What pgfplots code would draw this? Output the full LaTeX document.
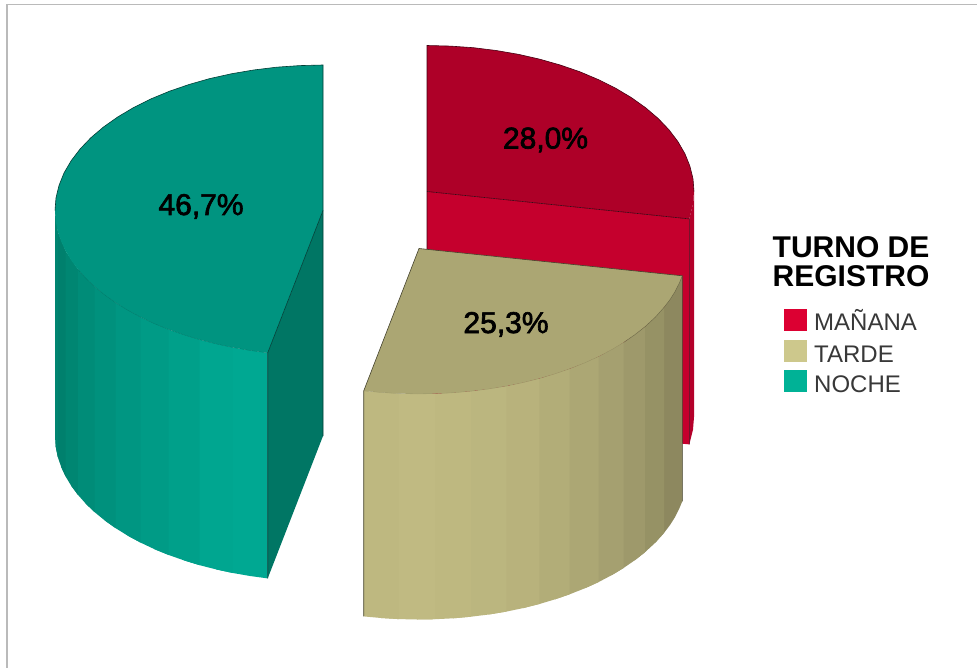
\documentclass[border=0pt]{standalone}
\usepackage{pgfplots}
\pgfplotsset{compat=1.18}
\usepackage{fontspec}
\setmainfont{Liberation Sans}
\newfontfamily\medfont[FakeBold=2.2]{Liberation Sans}
\definecolor{frameg}{RGB}{186,186,186}
\definecolor{tealtop}{RGB}{0,148,128}
\definecolor{tealin}{RGB}{0,118,100}
\definecolor{tealline}{RGB}{0,62,54}
\definecolor{redtop}{RGB}{174,0,40}
\definecolor{redfront}{RGB}{197,0,45}
\definecolor{redside}{RGB}{180,0,42}
\definecolor{redline}{RGB}{70,0,18}
\definecolor{tantop}{RGB}{171,166,115}
\definecolor{tanline}{RGB}{70,68,46}
\definecolor{legred}{RGB}{220,0,50}
\definecolor{legtan}{RGB}{205,200,140}
\definecolor{legteal}{RGB}{0,178,150}
\newcommand{\band}[2]{\addplot[draw=none,fill={rgb,255:#1}] coordinates {#2} --cycle;}
\begin{document}
\begin{tikzpicture}
\begin{axis}[width=977pt,height=668pt,scale only axis,hide axis,
  xmin=0,xmax=977,ymin=0,ymax=668,y dir=reverse,clip=true]
% page
\addplot[draw=none,fill=white] coordinates {(0,0)(977,0)(977,668)(0,668)} --cycle;
% frame
\addplot[frameg,line width=1.6pt] coordinates {(7,668)(7,4.5)(977,4.5)};

% NOCHE: inner face
\addplot[draw=none,fill=tealin] coordinates {(323,210.5)(267.7,352.9)(267.7,578.4)(323,436)} --cycle;
% NOCHE: outer wall, band by band, each one running under the next
\band{red,0;green,168;blue,146}{(267.7,352.9)(232.9,347.5)(216.1,343.9)(216.1,569.4)(232.9,573.0)(250.0,576.0)(267.7,578.4)}
\band{red,0;green,166;blue,144}{(232.9,347.5)(199.7,339.7)(183.8,334.8)(183.8,560.3)(199.7,565.2)(216.1,569.4)(232.9,573.0)}
\band{red,0;green,160;blue,138}{(199.7,339.7)(168.7,329.5)(154.3,323.6)(154.3,549.1)(168.7,555.0)(183.8,560.3)(199.7,565.2)}
\band{red,0;green,155;blue,134}{(168.7,329.5)(140.6,317.1)(127.6,310.1)(127.6,535.6)(140.6,542.6)(154.3,549.1)(168.7,555.0)}
\band{red,0;green,150;blue,130}{(140.6,317.1)(115.7,302.7)(104.8,295.0)(104.8,520.5)(115.7,528.2)(127.6,535.6)(140.6,542.6)}
\band{red,0;green,145;blue,125}{(115.7,302.7)(94.7,286.7)(85.7,278.1)(85.7,503.6)(94.7,512.2)(104.8,520.5)(115.7,528.2)}
\band{red,0;green,140;blue,120}{(94.7,286.7)(77.9,269.3)(71.2,260.3)(71.2,485.8)(77.9,494.8)(85.7,503.6)(94.7,512.2)}
\band{red,0;green,134;blue,114}{(77.9,269.3)(65.5,250.8)(61.1,241.2)(61.1,466.7)(65.5,476.3)(71.2,485.8)(77.9,494.8)}
\band{red,0;green,128;blue,109}{(65.5,250.8)(57.8,231.6)(55.7,221.2)(55.7,446.7)(57.8,457.1)(61.1,466.7)(65.5,476.3)}
\band{red,0;green,132;blue,112}{(57.8,231.6)(55,210.5)(55,436)(55.7,446.7)(57.8,457.1)}
% NOCHE: top face
\addplot[draw=none,fill=tealtop] coordinates {(323,210.5)(267.7,352.9)(250,350.5)(232.9,347.5)(216.1,343.9)(199.7,339.7)(183.8,334.8)(168.7,329.5)(154.3,323.6)(140.6,317.1)(127.6,310.1)(115.7,302.7)(104.8,295)(94.7,286.7)(85.7,278.1)(77.9,269.3)(71.2,260.3)(65.5,250.8)(61.1,241.2)(57.8,231.6)(55.7,221.2)(55,210.5)(56,197.8)(59.1,185.2)(64.1,172.8)(71.2,160.7)(80.1,149)(90.9,137.7)(103.5,127)(117.7,117)(133.5,107.6)(150.7,99)(169.3,91.3)(189,84.5)(209.7,78.6)(231.3,73.8)(253.6,70)(276.5,67.2)(299.6,65.6)(323,65)} --cycle;
\addplot[tealline,line width=0.6pt] coordinates {(55,210.5)(56,197.8)(59.1,185.2)(64.1,172.8)(71.2,160.7)(80.1,149)(90.9,137.7)(103.5,127)(117.7,117)(133.5,107.6)(150.7,99)(169.3,91.3)(189,84.5)(209.7,78.6)(231.3,73.8)(253.6,70)(276.5,67.2)(299.6,65.6)(323,65)(323,436)};
\addplot[tealline,line width=0.6pt] coordinates {(323,210.5)(267.7,352.9)(267.7,578.4)};
\addplot[tealline,line width=0.3pt,opacity=0.3] coordinates {(267.7,352.9)(250,350.5)(232.9,347.5)(216.1,343.9)(199.7,339.7)(183.8,334.8)(168.7,329.5)(154.3,323.6)(140.6,317.1)(127.6,310.1)(115.7,302.7)(104.8,295)(94.7,286.7)(85.7,278.1)(77.9,269.3)};

% MAÑANA: outer wall, front face, top face
\addplot[draw=none,fill=redside] coordinates {(694,191.5)(693,204.2)(689.3,218.9)(689.3,444.4)(693,429.7)(694,417)} --cycle;
\addplot[draw=none,fill=redfront] coordinates {(427,191.5)(689.3,218.9)(689.3,444.4)(427,417)} --cycle;
\addplot[draw=none,fill=redtop] coordinates {(427,191.5)(427,45.5)(450.3,46.1)(473.4,47.7)(496.1,50.5)(518.3,54.3)(539.8,59.2)(560.5,65.1)(580.2,71.9)(598.6,79.7)(615.8,88.3)(631.5,97.7)(645.7,107.8)(658.2,118.5)(669,129.8)(677.9,141.6)(684.9,153.7)(689.9,166.2)(693,178.8)(694,191.5)(693,204.2)(689.3,218.9)} --cycle;
\addplot[redline,line width=0.6pt] coordinates {(427,417)(427,45.5)(450.3,46.1)(473.4,47.7)(496.1,50.5)(518.3,54.3)(539.8,59.2)(560.5,65.1)(580.2,71.9)(598.6,79.7)(615.8,88.3)(631.5,97.7)(645.7,107.8)(658.2,118.5)(669,129.8)(677.9,141.6)(684.9,153.7)(689.9,166.2)(693,178.8)(694,191.5)};
\addplot[redline,line width=0.6pt] coordinates {(427,191.5)(689.3,218.9)(689.3,444.4)};

% TARDE: outer wall, band by band, each one running under the next
\band{red,141;green,136;blue,95}{(682.3,275.8)(664.0,307.4)(655.1,317.4)(655.1,542.9)(664.0,532.9)(669.9,525.2)(674.9,517.3)(679.0,509.2)(682.3,501.3)}
\band{red,150;green,146;blue,101}{(664.0,307.4)(644.8,326.9)(634.7,334.8)(634.7,560.3)(644.8,552.4)(655.1,542.9)(664.0,532.9)}
\band{red,158;green,153;blue,107}{(644.8,326.9)(623.7,342.4)(611.8,349.6)(611.8,575.1)(623.7,567.9)(634.7,560.3)(644.8,552.4)}
\band{red,165;green,160;blue,112}{(623.7,342.4)(598.7,356.5)(584.6,362.9)(584.6,588.4)(598.7,582.0)(611.8,575.1)(623.7,567.9)}
\band{red,172;green,167;blue,116}{(598.7,356.5)(569.6,368.8)(554.8,373.9)(554.8,599.4)(569.6,594.3)(584.6,588.4)(598.7,582.0)}
\band{red,178;green,173;blue,120}{(569.6,368.8)(539.4,378.5)(523.1,382.6)(523.1,608.1)(539.4,604.0)(554.8,599.4)(569.6,594.3)}
\band{red,184;green,178;blue,124}{(539.4,378.5)(506.3,386.1)(488.8,389.0)(488.8,614.5)(506.3,611.6)(523.1,608.1)(539.4,604.0)}
\band{red,187;green,182;blue,127}{(506.3,386.1)(471.0,391.2)(453.3,392.8)(453.3,618.3)(471.0,616.7)(488.8,614.5)(506.3,611.6)}
\band{red,190;green,184;blue,128}{(471.0,391.2)(435.3,393.7)(417.1,394.0)(417.1,619.5)(435.3,619.2)(453.3,618.3)(471.0,616.7)}
\band{red,192;green,186;blue,130}{(435.3,393.7)(398.9,393.6)(381.2,392.5)(381.2,618.0)(398.9,619.1)(417.1,619.5)(435.3,619.2)}
\band{red,190;green,184;blue,128}{(398.9,393.6)(363.7,390.9)(363.7,616.4)(381.2,618.0)(398.9,619.1)}
% TARDE: top face
\addplot[draw=none,fill=tantop] coordinates {(419,248.5)(682.3,275.8)(679,283.7)(674.9,291.8)(669.9,299.7)(664,307.4)(655.1,317.4)(644.8,326.9)(634.7,334.8)(623.7,342.4)(611.8,349.6)(598.7,356.5)(584.6,362.9)(569.6,368.8)(554.8,373.9)(539.4,378.5)(523.1,382.6)(506.3,386.1)(488.8,389)(471,391.2)(453.3,392.8)(435.3,393.7)(417.1,394)(398.9,393.6)(381.2,392.5)(363.7,390.9)} --cycle;
\addplot[tanline,line width=0.6pt] coordinates {(682.3,501.3)(682.3,275.8)(419,248.5)(363.7,390.9)(363.7,616.4)};
\addplot[tanline,line width=0.4pt,opacity=0.6] coordinates {(682.3,275.8)(679,283.7)(674.9,291.8)(669.9,299.7)(664,307.4)(655.1,317.4)(644.8,326.9)(634.7,334.8)(623.7,342.4)};
\addplot[tanline,line width=0.3pt,opacity=0.2] coordinates {(623.7,342.4)(611.8,349.6)(598.7,356.5)(584.6,362.9)(569.6,368.8)(554.8,373.9)(539.4,378.5)(523.1,382.6)(506.3,386.1)(488.8,389)(471,391.2)(453.3,392.8)(435.3,393.7)(417.1,394)(398.9,393.6)(381.2,392.5)(363.7,390.9)};

% percentage labels
\node[anchor=base,inner sep=0pt,font=\medfont\fontsize{30}{30}\selectfont] at (axis cs:545.5,148.5) {28,0\%};
\node[anchor=base,inner sep=0pt,font=\medfont\fontsize{30}{30}\selectfont] at (axis cs:506,333) {25,3\%};
\node[anchor=base,inner sep=0pt,font=\medfont\fontsize{30}{30}\selectfont] at (axis cs:201,215) {46,7\%};

% legend
\node[anchor=base west,inner sep=0pt,font=\bfseries\fontsize{30}{30}\selectfont] at (axis cs:772.5,258) {TURNO DE};
\node[anchor=base west,inner sep=0pt,font=\bfseries\fontsize{30}{30}\selectfont] at (axis cs:772.5,287) {REGISTRO};
\addplot[draw=none,fill=legred] coordinates {(784,309)(807,309)(807,331)(784,331)} --cycle;
\addplot[draw=none,fill=legtan] coordinates {(784,340)(807,340)(807,362)(784,362)} --cycle;
\addplot[draw=none,fill=legteal] coordinates {(784,370)(807,370)(807,392)(784,392)} --cycle;
\node[anchor=base west,inner sep=0pt,text=black!78,font=\fontsize{24}{24}\selectfont] at (axis cs:814,330.5) {MAÑANA};
\node[anchor=base west,inner sep=0pt,text=black!78,font=\fontsize{24}{24}\selectfont] at (axis cs:814,362) {TARDE};
\node[anchor=base west,inner sep=0pt,text=black!78,font=\fontsize{24}{24}\selectfont] at (axis cs:814,392) {NOCHE};
\end{axis}
\end{tikzpicture}
\end{document}
